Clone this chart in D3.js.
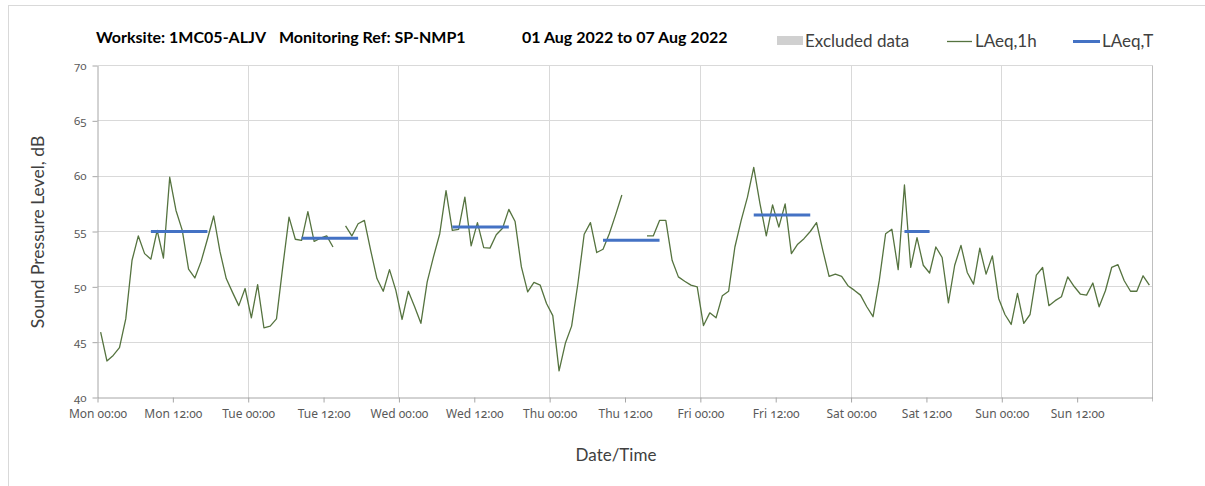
<!DOCTYPE html>
<html>
<head>
<meta charset="utf-8">
<script src="https://cdn.jsdelivr.net/npm/d3@7"></script>
<style>
  body { margin: 0; background: #fff; }
  text { font-family: Lato, "Open Sans", sans-serif; }
  .num { font-family: "Noto Sans", Lato, sans-serif; font-variant-numeric: oldstyle-nums; font-feature-settings: "onum" 1; }
</style>
</head>
<body>
<svg id="chart"></svg>
<script>
// Hourly LAeq,1h values (dB), one array per day, null = no data
const mon = [45.9, 43.3, 43.8, 44.5, 47.1, 52.4, 54.6, 53.0, 52.5, 55.1, 52.6, 59.9,
             56.9, 55.1, 51.6, 50.8, 52.3, 54.3, 56.4, 53.2, 50.75, 49.5, 48.3, 49.85];
const tue = [47.2, 50.2, 46.3, 46.45, 47.1, 51.8, 56.3, 54.3, 54.2, 56.8, 54.1, 54.4,
             54.6, 53.6, null, 55.5, 54.6, 55.7, 56.0, 53.3, 50.75, 49.6, 51.55, 49.7];
const wed = [47.05, 49.6, 48.2, 46.7, 50.45, 52.7, 54.8, 58.7, 55.1, 55.2, 58.1, 53.7,
             55.8, 53.55, 53.5, 54.7, 55.3, 57.0, 55.9, 51.8, 49.55, 50.4, 50.15, 48.5];
const thu = [47.4, 42.4, 44.9, 46.45, 50.3, 54.75, 55.8, 53.1, 53.4, 54.8, 56.5, 58.3,
             null, null, null, 54.6, 54.6, 56.0, 56.0, 52.4, 50.9, 50.5, 50.15, 50.0];
const fri = [46.5, 47.65, 47.2, 49.2, 49.6, 53.6, 56.0, 58.1, 60.8, 57.5, 54.6, 57.4,
             55.4, 57.5, 53.0, 53.85, 54.35, 55.0, 55.8, 53.3, 50.95, 51.15, 50.95, 50.1];
const sat = [49.7, 49.25, 48.2, 47.3, 50.6, 54.8, 55.2, 51.55, 59.2, 51.75, 54.45, 51.95,
             51.25, 53.6, 52.65, 48.55, 51.95, 53.75, 51.3, 50.25, 53.5, 51.15, 52.8, 48.95];
const sun = [47.5, 46.6, 49.4, 46.7, 47.5, 51.05, 51.75, 48.3, 48.75, 49.1, 50.9, 50.05,
             49.35, 49.25, 50.35, 48.2, 49.65, 51.75, 52.0, 50.55, 49.6, 49.6, 51.0, 50.15];

// LAeq,T over the daytime period of each day
const periodDay = [0, 1, 2, 3, 4, 5];
const periodStartHour = [8, 8, 8, 8, 8, 8];
const periodEndHour = [17, 17, 17, 17, 17, 12];
const periodValues = [55.0, 54.4, 55.4, 54.2, 56.5, 55.0];

// Axis ticks
const dayNames = ['Mon', 'Tue', 'Wed', 'Thu', 'Fri', 'Sat', 'Sun'];
const yTicks = [40, 45, 50, 55, 60, 65, 70];

const startDate = new Date(2022, 7, 1, 0, 0);
const endDate = new Date(2022, 7, 8, 0, 0);
const hourMs = 3600 * 1000;
const sampleOffset = 0.5; // points plotted at mid-hour

const width = 1205;
const height = 486;
const plot = { left: 97, right: 1152, top: 65, bottom: 397 };

const svg = d3.select('#chart')
    .attr('width', width)
    .attr('height', height);

// Outer frame
svg.append('rect')
    .attr('x', 8.5).attr('y', 5.5)
    .attr('width', 1300).attr('height', 600)
    .attr('fill', 'none')
    .attr('stroke', '#d9d9d9');

const x = d3.scaleTime().domain([startDate, endDate]).range([plot.left, plot.right]);
const y = d3.scaleLinear().domain([40, 70]).range([plot.bottom, plot.top]);

const hourly = [mon, tue, wed, thu, fri, sat, sun].flat().map((v, i) => ({
  t: new Date(startDate.getTime() + (i + sampleOffset) * hourMs),
  v: v
}));

const g = svg.append('g').attr('transform', 'translate(0.5,0.5)');

// Gridlines
const dayTicks = d3.range(1, 7).map(d => new Date(startDate.getTime() + d * 24 * hourMs));
g.append('g')
  .selectAll('line')
  .data(dayTicks)
  .enter()
  .append('line')
    .attr('x1', d => Math.round(x(d))).attr('x2', d => Math.round(x(d)))
    .attr('y1', plot.top).attr('y2', plot.bottom)
    .attr('stroke', '#d9d9d9');

g.append('g')
  .selectAll('line')
  .data(yTicks.slice(1))
  .enter()
  .append('line')
    .attr('x1', plot.left).attr('x2', plot.right)
    .attr('y1', d => Math.round(y(d))).attr('y2', d => Math.round(y(d)))
    .attr('stroke', '#d9d9d9');

// Plot area border (right)
g.append('line')
    .attr('x1', plot.right).attr('x2', plot.right)
    .attr('y1', plot.top).attr('y2', plot.bottom + 4)
    .attr('stroke', '#bfbfbf');

// Y axis
const yAxis = g.append('g')
    .attr('transform', `translate(${plot.left},0)`)
    .call(d3.axisLeft(y).tickValues(yTicks).tickSize(5).tickPadding(6).tickSizeOuter(0));
yAxis.select('.domain').attr('stroke', '#a6a6a6');
yAxis.selectAll('.tick line').attr('stroke', '#a6a6a6');
yAxis.selectAll('.tick text')
    .attr('class', 'num')
    .attr('fill', '#595959')
    .style('font-size', '11.5px');

// X axis
const xTickValues = d3.range(0, 14).map(i => new Date(startDate.getTime() + i * 12 * hourMs));
const xTickLabels = xTickValues.map((d, i) => `${dayNames[Math.floor(i / 2)]} ${i % 2 ? '12:00' : '00:00'}`);
const xAxis = g.append('g')
    .attr('transform', `translate(0,${plot.bottom})`)
    .call(d3.axisBottom(x)
      .tickValues(xTickValues)
      .tickFormat((d, i) => xTickLabels[i])
      .tickSize(5)
      .tickPadding(7)
      .tickSizeOuter(0));
xAxis.select('.domain').attr('stroke', '#a6a6a6');
xAxis.selectAll('.tick line').attr('stroke', '#a6a6a6');
xAxis.selectAll('.tick text')
    .attr('class', 'num')
    .attr('fill', '#595959')
    .style('font-size', '12px');

// LAeq,1h line
const line = d3.line()
    .defined(d => d.v != null)
    .x(d => x(d.t))
    .y(d => y(d.v));

g.append('path')
    .datum(hourly)
    .attr('fill', 'none')
    .attr('stroke', '#55733f')
    .attr('stroke-width', 1.3)
    .attr('stroke-linejoin', 'round')
    .attr('d', line);

// LAeq,T segments
const periods = periodDay.map((d, i) => ({
  t0: new Date(startDate.getTime() + (d * 24 + periodStartHour[i] + sampleOffset) * hourMs),
  t1: new Date(startDate.getTime() + (d * 24 + periodEndHour[i] + sampleOffset) * hourMs),
  v: periodValues[i]
}));

g.append('g')
  .selectAll('line')
  .data(periods)
  .enter()
  .append('line')
    .attr('x1', d => x(d.t0)).attr('x2', d => x(d.t1))
    .attr('y1', d => y(d.v)).attr('y2', d => y(d.v))
    .attr('stroke', '#4472c4')
    .attr('stroke-width', 3);

// Title
const title = svg.append('g')
    .attr('font-weight', 'bold')
    .attr('font-size', '16px')
    .attr('fill', '#000');
title.append('text').attr('x', 96).attr('y', 43).text('Worksite: 1MC05-ALJV');
title.append('text').attr('x', 279).attr('y', 43).text('Monitoring Ref: SP-NMP1');
title.append('text').attr('x', 522).attr('y', 43).text('01 Aug 2022 to 07 Aug 2022');

// Legend
const legend = svg.append('g').attr('font-size', '17px').attr('fill', '#404040');
legend.append('rect')
    .attr('x', 777).attr('y', 36).attr('width', 26).attr('height', 9)
    .attr('fill', '#d0d0d0');
legend.append('text').attr('x', 805).attr('y', 47).text('Excluded data');
legend.append('line')
    .attr('x1', 947).attr('x2', 972).attr('y1', 41.5).attr('y2', 41.5)
    .attr('stroke', '#55733f').attr('stroke-width', 1.3);
legend.append('text').attr('x', 975).attr('y', 47).text('LAeq,1h');
legend.append('line')
    .attr('x1', 1073).attr('x2', 1100).attr('y1', 41.5).attr('y2', 41.5)
    .attr('stroke', '#4472c4').attr('stroke-width', 3);
legend.append('text').attr('x', 1102).attr('y', 47).text('LAeq,T');

// Axis titles
svg.append('text')
    .attr('transform', 'translate(44,232) rotate(-90)')
    .attr('text-anchor', 'middle')
    .attr('font-size', '17.5px')
    .attr('fill', '#404040')
    .text('Sound Pressure Level, dB');

svg.append('text')
    .attr('x', 616).attr('y', 461)
    .attr('text-anchor', 'middle')
    .attr('font-size', '17px')
    .attr('fill', '#404040')
    .text('Date/Time');
</script>
</body>
</html>
